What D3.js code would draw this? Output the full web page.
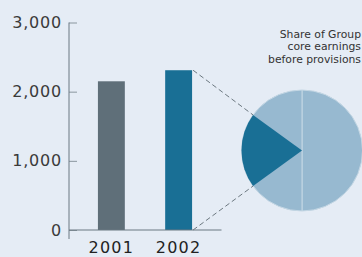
<!DOCTYPE html>
<html>
<head>
<meta charset="utf-8">
<script src="https://cdn.jsdelivr.net/npm/d3@7"></script>
<style>
  html, body { margin: 0; padding: 0; background: #e5ecf5; }
  svg { display: block; }
</style>
</head>
<body>
<svg id="chart"></svg>
<script>
// Chart data
const years = ['2001', '2002'];
const earnings = [2150, 2310];
const yTicks = [0, 1000, 2000, 3000];
const sharePct = 20; // share of Group core earnings, 2002
const noteLines = ['Share of Group', 'core earnings', 'before provisions'];

const W = 362, H = 257;
const svg = d3.select('#chart').attr('width', W).attr('height', H);

const barColors = ['#5f6f79', '#196f95'];
const pieLight = '#97b9d0';
const axisColor = '#6a7882';

// scales
const x = d3.scaleBand().domain(years).range([69, 221]).paddingInner(0.6).paddingOuter(0.43);
const y = d3.scaleLinear().domain([0, 3000]).range([230, 22.5]);

// Y axis
const yAxis = svg.append('g')
    .attr('transform', 'translate(69,0)')
    .call(d3.axisLeft(y).tickValues(yTicks).tickFormat(d3.format(',')).tickSize(-8).tickSizeOuter(0).tickPadding(7));
yAxis.select('.domain').remove();
yAxis.selectAll('.tick line').attr('stroke', '#8a969e').attr('stroke-width', 1);
yAxis.selectAll('.tick text')
    .attr('fill', '#3a3a3a')
    .style('font-family', 'DejaVu Sans')
    .style('font-size', '16px')
    .style('letter-spacing', '0.8px');

svg.append('line')
    .attr('x1', 69).attr('x2', 69)
    .attr('y1', y(3000)).attr('y2', y(0) + 9)
    .attr('stroke', axisColor).attr('stroke-width', 1);

// Bars
svg.selectAll('rect.bar')
    .data(years)
    .enter().append('rect')
    .attr('class', 'bar')
    .attr('x', d => x(d))
    .attr('width', x.bandwidth())
    .attr('y', (d, i) => y(earnings[i]))
    .attr('height', (d, i) => y(0) - y(earnings[i]))
    .attr('fill', (d, i) => barColors[i]);

// baseline
svg.append('line')
    .attr('x1', 69).attr('x2', 221.5)
    .attr('y1', y(0)).attr('y2', y(0))
    .attr('stroke', axisColor).attr('stroke-width', 1);

// year labels
svg.selectAll('text.year')
    .data(years)
    .enter().append('text')
    .attr('class', 'year')
    .attr('x', d => x(d) + x.bandwidth() / 2)
    .attr('y', 253)
    .attr('text-anchor', 'middle')
    .attr('fill', '#222')
    .style('font-family', 'DejaVu Sans')
    .style('font-size', '16px')
    .style('letter-spacing', '1.2px')
    .text(d => d);

// Pie
const cx = 302, cy = 150.5, r = 60.5;
const pieG = svg.append('g').attr('transform', `translate(${cx},${cy})`);
const arc = d3.arc().innerRadius(0).outerRadius(r);

// light base split in two halves
const halves = d3.pie().sort(null)([50, 50]);
pieG.selectAll('path.half')
    .data(halves)
    .enter().append('path')
    .attr('class', 'half')
    .attr('d', arc)
    .attr('fill', pieLight)
    .attr('stroke', '#c4d7e4')
    .attr('stroke-width', 1);

// dark share slice centred on 9 o'clock
const span = sharePct / 100 * 2 * Math.PI;
const slice = { startAngle: 1.5 * Math.PI - span / 2, endAngle: 1.5 * Math.PI + span / 2 };
pieG.append('path')
    .attr('d', arc(slice))
    .attr('fill', barColors[1]);

// connector lines from 2002 bar to slice
const barRight = x('2002') + x.bandwidth();
const pts = [
    [barRight, y(earnings[1]), slice.endAngle],
    [barRight, y(0), slice.startAngle]
];
svg.selectAll('line.conn')
    .data(pts)
    .enter().append('line')
    .attr('class', 'conn')
    .attr('x1', d => d[0] + 1)
    .attr('y1', d => d[1])
    .attr('x2', d => cx + r * Math.sin(d[2]))
    .attr('y2', d => cy - r * Math.cos(d[2]))
    .attr('stroke', '#6c7880')
    .attr('stroke-width', 1)
    .attr('stroke-dasharray', '5,3');

// note text
svg.append('text')
    .attr('x', 361)
    .attr('y', 37.5)
    .attr('text-anchor', 'end')
    .attr('fill', '#333')
    .style('font-family', 'DejaVu Sans')
    .style('font-size', '10.8px')
    .selectAll('tspan')
    .data(noteLines)
    .enter().append('tspan')
    .attr('x', 361)
    .attr('dy', (d, i) => i === 0 ? 0 : 12.9)
    .text(d => d);
</script>
</body>
</html>
